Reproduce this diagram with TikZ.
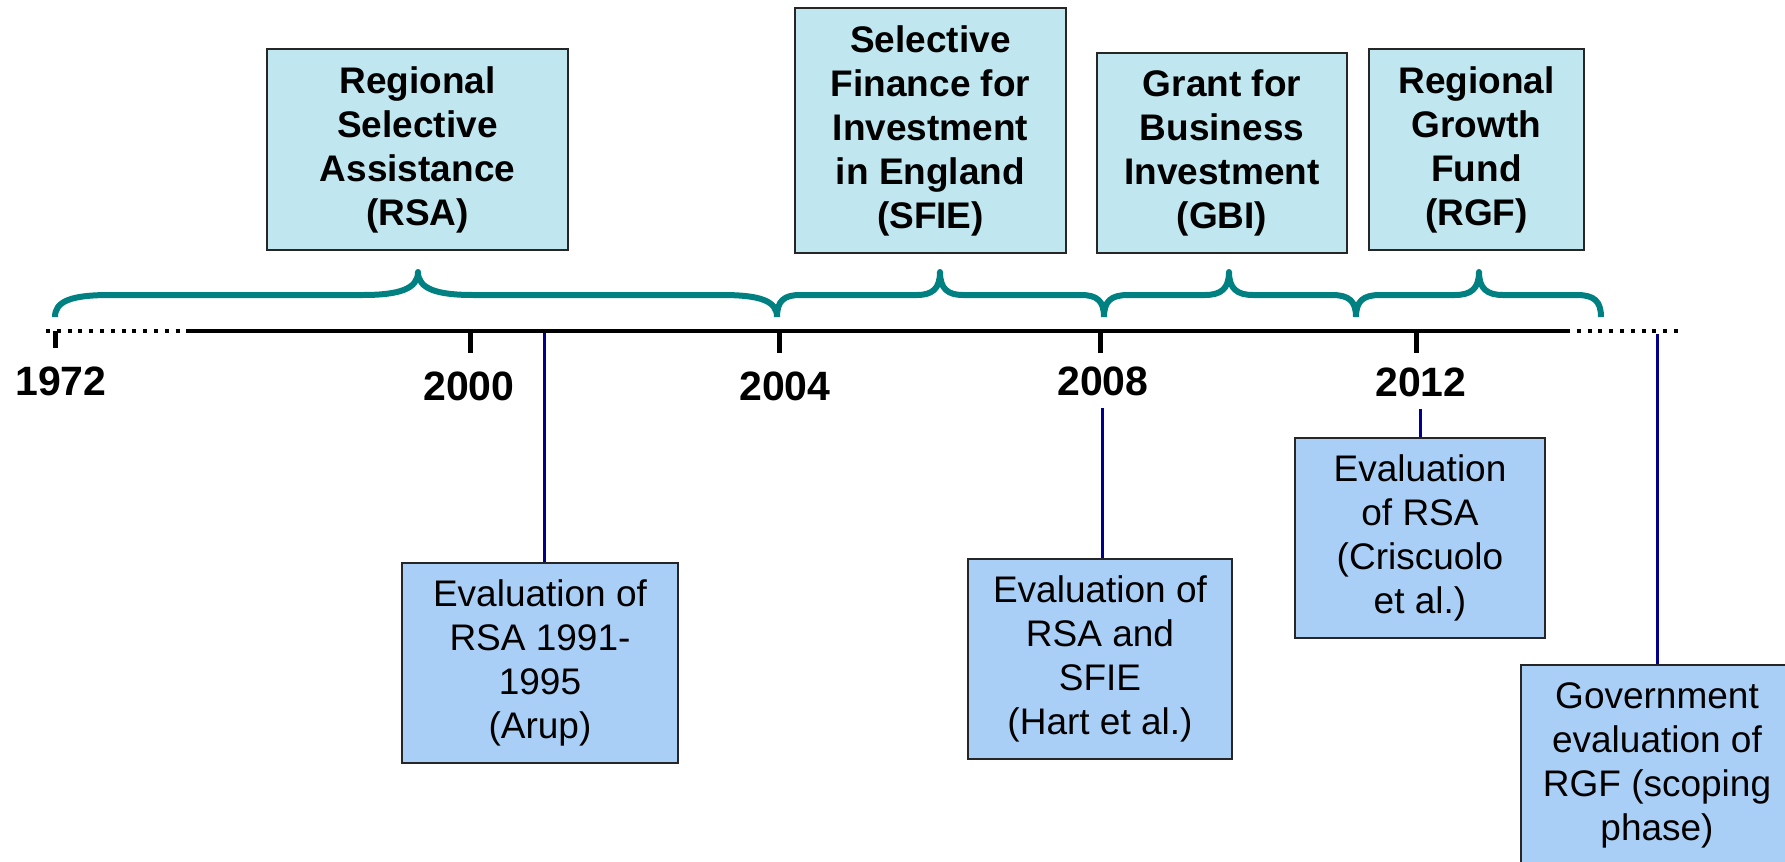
\documentclass[tikz,border=0pt]{standalone}
\usepackage{fontspec}
\setmainfont{Liberation Sans}
\definecolor{progfill}{RGB}{192,231,239}
\definecolor{evalfill}{RGB}{170,207,246}
\definecolor{braceteal}{RGB}{0,128,128}
\definecolor{linknavy}{RGB}{0,0,140}
% curly brace over the axis: left end, tip, right end, curve width
\newcommand{\tlbrace}[4]{%
  \draw[bracestyle] (#1,317) .. controls (#1,301) and (#1+0.3*#4,295) .. (#1+#4,295)
    -- (#2-#4,295) .. controls (#2-0.35*#4,295) and (#2,289) .. (#2,272)
    .. controls (#2,289) and (#2+0.35*#4,295) .. (#2+#4,295)
    -- (#3-#4,295) .. controls (#3-0.3*#4,295) and (#3,301) .. (#3,317);}
\begin{document}
\begin{tikzpicture}[x=0.5pt,y=-0.5pt,
  topbox/.style={draw=black!85, line width=1pt, fill=progfill, inner sep=0pt,
    align=center, font=\bfseries\fontsize{18.5}{22}\selectfont},
  evalbox/.style={draw=black!85, line width=1pt, fill=evalfill, inner sep=0pt,
    align=center, font=\fontsize{18.5}{22}\selectfont},
  yearlbl/.style={font=\bfseries\fontsize{20.5}{24}\selectfont, inner sep=0pt},
  axis/.style={line width=2pt, black},
  axisdots/.style={line width=2pt, black, dash pattern=on 2pt off 3.4pt},
  yeartick/.style={line width=2.5pt, black},
  bracestyle/.style={draw=braceteal, line width=3pt, line join=round},
  link/.style={draw=linknavy, line width=1.5pt}]

\clip (0,0) rectangle (1785,862);

% programme boxes
\node[topbox, minimum width=150.5pt, minimum height=100.5pt] (rsa) at (417.5,149.5)
  {Regional\\Selective\\Assistance\\(RSA)};
\node[topbox, minimum width=135.5pt, minimum height=122.5pt] (sfie) at (930.5,130.5)
  {Selective\\Finance for\\Investment\\in England\\(SFIE)};
\node[topbox, minimum width=125pt, minimum height=100pt] (gbi) at (1222,153)
  {Grant for\\Business\\Investment\\(GBI)};
\node[topbox, minimum width=107.5pt, minimum height=100.5pt] (rgf) at (1476.5,149.5)
  {Regional\\Growth\\Fund\\(RGF)};

% braces spanning each programme period
\tlbrace{55}{418}{777}{55}
\tlbrace{777}{940}{1104}{23}
\tlbrace{1104}{1229}{1356}{24}
\tlbrace{1356}{1479}{1601}{24}

% time axis
\coordinate (axL) at (46,331);
\coordinate (axA) at (188,331);
\coordinate (axB) at (1566,331);
\coordinate (axR) at (1681,331);
\draw[axisdots] (axL) -- (axA);
\draw[axis] (axA) -- (axB);
\draw[axisdots] (axB) -- (axR);

\coordinate (t1972) at (55,331);
\coordinate (t2000) at (470,331);
\coordinate (t2004) at (779,331);
\coordinate (t2008) at (1100,331);
\coordinate (t2012) at (1416,331);
\draw[yeartick] (t1972) -- ++(0,17);
\draw[yeartick] (t2000) -- ++(0,22);
\draw[yeartick] (t2004) -- ++(0,22);
\draw[yeartick] (t2008) -- ++(0,22);
\draw[yeartick] (t2012) -- ++(0,22);

\node[yearlbl] (y1972) at (61,381) {1972};
\node[yearlbl] (y2000) at (469,386) {2000};
\node[yearlbl] (y2004) at (785,386) {2004};
\node[yearlbl] (y2008) at (1103,381) {2008};
\node[yearlbl] (y2012) at (1421,382) {2012};

% evaluation boxes
\node[evalbox, minimum width=138pt, minimum height=100pt] (evA) at (540,663)
  {Evaluation of\\RSA 1991-\\1995\\(Arup)};
\node[evalbox, minimum width=132pt, minimum height=100pt] (evB) at (1100,659)
  {Evaluation of\\RSA and\\SFIE\\(Hart et al.)};
\node[evalbox, minimum width=125pt, minimum height=100pt] (evC) at (1420,538)
  {Evaluation\\of RSA\\(Criscuolo\\et al.)};
\node[evalbox, minimum width=136pt, minimum height=100pt] (evD) at (1657,765)
  {Government\\evaluation of\\RGF (scoping\\phase)};

% links from the axis to the evaluations
\coordinate (lA) at (544,333);
\coordinate (lB) at (1102,408);
\coordinate (lC) at (1420,409);
\coordinate (lD) at (1657,334);
\draw[link] (lA) -- (lA |- evA.north);
\draw[link] (lB) -- (lB |- evB.north);
\draw[link] (lC) -- (lC |- evC.north);
\draw[link] (lD) -- (lD |- evD.north);
\end{tikzpicture}
\end{document}
